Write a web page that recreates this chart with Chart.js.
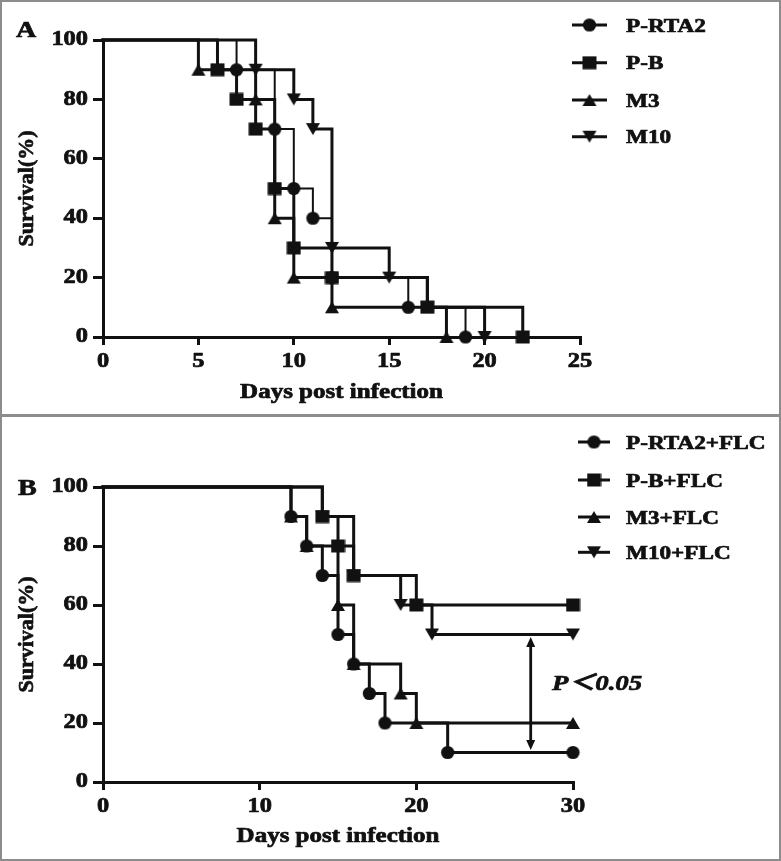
<!DOCTYPE html>
<html>
<head>
<meta charset="utf-8">
<script src="https://cdn.jsdelivr.net/npm/chart.js@4.4.1/dist/chart.umd.min.js"></script>
<style>
html,body{margin:0;padding:0;background:#fff;}
#fig{position:relative;width:781px;height:861px;overflow:hidden;background:#fff;}
.panel{position:absolute;left:0;width:781px;}
.panel canvas{display:block;}
.rule{position:absolute;background:#8c8c8c;}
</style>
</head>
<body>
<div id="fig">
  <div class="panel" style="top:0;height:415px"><canvas id="chartA" width="781" height="415" style="width:781px;height:415px"></canvas></div>
  <div class="panel" style="top:415px;height:446px"><canvas id="chartB" width="781" height="446" style="width:781px;height:446px"></canvas></div>
  <div class="rule" style="left:0;top:0;width:781px;height:2px"></div>
  <div class="rule" style="left:0;top:859px;width:781px;height:2px"></div>
  <div class="rule" style="left:0;top:0;width:2px;height:861px"></div>
  <div class="rule" style="left:779px;top:0;width:2px;height:861px"></div>
  <div class="rule" style="left:0;top:414px;width:781px;height:3px"></div>
</div>
<script>
// ---------------- data ----------------
const labelsA = ['P-RTA2', 'P-B', 'M3', 'M10'];
const daysA_PRTA2 = [0, 7, 9, 10, 11, 12, 16, 19];
const survA_PRTA2 = [100, 90, 70, 50, 40, 20, 10, 0];
const daysA_PB = [0, 6, 7, 8, 9, 10, 12, 17, 22];
const survA_PB = [100, 90, 80, 70, 50, 30, 20, 10, 0];
const daysA_M3 = [0, 5, 8, 9, 10, 12, 18];
const survA_M3 = [100, 90, 80, 40, 20, 10, 0];
const daysA_M10 = [0, 8, 10, 11, 12, 15, 17, 20];
const survA_M10 = [100, 90, 80, 70, 30, 20, 10, 0];

const labelsB = ['P-RTA2+FLC', 'P-B+FLC', 'M3+FLC', 'M10+FLC'];
const daysB_PRTA2 = [0, 12, 13, 14, 15, 16, 17, 18, 22, 30];
const survB_PRTA2 = [100, 90, 80, 70, 50, 40, 30, 20, 10, 10];
const daysB_PB = [0, 14, 15, 16, 20, 30];
const survB_PB = [100, 90, 80, 70, 60, 60];
const daysB_M3 = [0, 12, 13, 15, 16, 19, 20, 30];
const survB_M3 = [100, 90, 80, 60, 40, 30, 20, 20];
const daysB_M10 = [0, 14, 16, 19, 21, 30];
const survB_M10 = [100, 90, 70, 60, 50, 50];

const yTicks = [0, 20, 40, 60, 80, 100];
const xTicksA = [0, 5, 10, 15, 20, 25];
const xTicksB = [0, 10, 20, 30];
const xTitle = 'Days post infection';
const yTitle = 'Survival(%)';
const pValueText = 'P\uFF1C0.05';
const pArrowDay = 27.3;
const pArrowFrom = 50;
const pArrowTo = 10;

// ---------------- style ----------------
const INK = '#111111';
const SERIF = "'Liberation Serif', 'Times New Roman', serif";
const STRETCH = 1.22;
const EMBOLDEN = 0.7;
Chart.defaults.font.family = SERIF;

function patchCtx(ctx) {
  const origFill = ctx.fillText.bind(ctx);
  const origStroke = ctx.strokeText.bind(ctx);
  function draw(t, x, y, mw) {
    ctx.save();
    ctx.strokeStyle = ctx.fillStyle;
    ctx.lineWidth = EMBOLDEN;
    ctx.lineJoin = 'round';
    if (mw === undefined) { origFill(t, x, y); origStroke(t, x, y); }
    else { origFill(t, x, y, mw); origStroke(t, x, y, mw); }
    ctx.restore();
  }
  ctx.fillText = function (t, x, y, mw) {
    const m = ctx.getTransform();
    if (Math.abs(m.b) > 1e-6 || Math.abs(m.c) > 1e-6) {
      return draw(t, x, y, mw);
    }
    ctx.save();
    ctx.translate(x, y);
    ctx.scale(STRETCH, 1);
    draw(t, 0, 0, mw);
    ctx.restore();
  };
}

function makeMarker(kind) {
  const c = document.createElement('canvas');
  let w = 15, h = 15;
  if (kind === 'rect') { w = 15; h = 14; }
  if (kind === 'up' || kind === 'down') { w = 16; h = 14; }
  c.width = w; c.height = h;
  const g = c.getContext('2d');
  g.fillStyle = INK;
  g.beginPath();
  if (kind === 'circle') g.arc(w / 2, h / 2, 6.6, 0, Math.PI * 2);
  else if (kind === 'rect') g.rect(0.5, 0.5, 14, 13);
  else if (kind === 'up') { g.moveTo(w / 2, 1); g.lineTo(w - 1, h - 1); g.lineTo(1, h - 1); g.closePath(); }
  else { g.moveTo(1, 1); g.lineTo(w - 1, 1); g.lineTo(w / 2, h - 1); g.closePath(); }
  g.fill();
  return c;
}
const MK = { circle: makeMarker('circle'), rect: makeMarker('rect'), up: makeMarker('up'), down: makeMarker('down') };

function series(label, days, surv, marker, width) {
  return {
    label: label,
    data: days.map((d, i) => ({ x: d, y: surv[i] })),
    stepped: 'before',
    borderColor: INK,
    borderWidth: width,
    borderJoinStyle: 'miter',
    borderCapStyle: 'square',
    fill: false,
    pointStyle: marker,
    pointRadius: (c) => (c.dataIndex === 0 ? 0 : 6),
    pointHoverRadius: (c) => (c.dataIndex === 0 ? 0 : 6),
    clip: false
  };
}

const tickFont = { family: SERIF, weight: 'bold', size: 20 };

function scalesFor(xTicks, xHeight, titlePadBottom) {
  return {
    x: {
      type: 'linear',
      min: xTicks[0], max: xTicks[xTicks.length - 1],
      afterBuildTicks: (s) => { s.ticks = xTicks.map(v => ({ value: v })); },
      ticks: { color: INK, font: tickFont, padding: 5, maxRotation: 0, autoSkip: false },
      grid: { display: true, drawOnChartArea: false, drawTicks: true, tickLength: 8, tickColor: INK, tickWidth: 3, color: INK, lineWidth: 3 },
      border: { display: true, color: INK, width: 3 },
      title: { display: true, text: xTitle, color: INK, font: { family: SERIF, weight: 'bold', size: 20.5 }, padding: { top: 0, bottom: titlePadBottom } },
      afterFit: (s) => { s.height = xHeight; }
    },
    y: {
      type: 'linear',
      min: yTicks[0], max: yTicks[yTicks.length - 1],
      afterBuildTicks: (s) => { s.ticks = yTicks.map(v => ({ value: v })); },
      ticks: { color: INK, font: tickFont, padding: 5 },
      grid: { display: true, drawOnChartArea: false, drawTicks: true, tickLength: 10, tickColor: INK, tickWidth: 3, color: INK, lineWidth: 3 },
      border: { display: true, color: INK, width: 3 },
      title: { display: true, text: yTitle, color: INK, font: { family: SERIF, weight: 'bold', size: 22 }, padding: { top: 14.5, bottom: 0 } },
      afterFit: (s) => { s.width = 103; }
    }
  };
}

function extrasPlugin(o) {
  return {
    id: 'extras' + o.letter,
    afterDraw(chart) {
      const ctx = chart.ctx;
      ctx.save();
      ctx.fillStyle = INK;
      ctx.textAlign = 'left';
      ctx.textBaseline = 'alphabetic';
      ctx.font = 'bold 23px ' + SERIF;
      ctx.fillText(o.letter, o.letterX, o.letterY);
      ctx.font = 'bold 19px ' + SERIF;
      chart.data.datasets.forEach((ds, i) => {
        const y = o.rows[i];
        ctx.strokeStyle = INK;
        ctx.lineWidth = 3;
        ctx.beginPath();
        ctx.moveTo(o.lx1, y);
        ctx.lineTo(o.lx2, y);
        ctx.stroke();
        const m = ds.pointStyle;
        ctx.drawImage(m, (o.lx1 + o.lx2) / 2 - m.width / 2, y - m.height / 2);
        ctx.fillText(ds.label, o.tx, y + 6.5);
      });
      ctx.restore();
    }
  };
}

const pValuePlugin = {
  id: 'pvalue',
  afterDatasetsDraw(chart) {
    const ctx = chart.ctx;
    const xs = chart.scales.x, ys = chart.scales.y;
    const x = xs.getPixelForValue(pArrowDay);
    const yTop = ys.getPixelForValue(pArrowFrom) + 2.5;
    const yBot = ys.getPixelForValue(pArrowTo) - 2.5;
    const hh = 10, hw = 4.5;
    ctx.save();
    ctx.strokeStyle = INK; ctx.fillStyle = INK; ctx.lineWidth = 2.8;
    ctx.beginPath(); ctx.moveTo(x, yTop + hh - 1); ctx.lineTo(x, yBot - hh + 1); ctx.stroke();
    ctx.beginPath(); ctx.moveTo(x, yTop); ctx.lineTo(x + hw, yTop + hh); ctx.lineTo(x - hw, yTop + hh); ctx.closePath(); ctx.fill();
    ctx.beginPath(); ctx.moveTo(x, yBot); ctx.lineTo(x + hw, yBot - hh); ctx.lineTo(x - hw, yBot - hh); ctx.closePath(); ctx.fill();
    ctx.font = "italic bold 22px 'Liberation Serif', 'Noto Sans CJK SC', serif";
    ctx.textAlign = 'left'; ctx.textBaseline = 'alphabetic';
    ctx.fillText(pValueText, 552, 275);
    ctx.restore();
  }
};

// ---------------- chart A ----------------
const cA = document.getElementById('chartA');
const ctxA = cA.getContext('2d');
patchCtx(ctxA);
new Chart(ctxA, {
  type: 'line',
  data: {
    datasets: [
      series(labelsA[0], daysA_PRTA2, survA_PRTA2, MK.circle, 2),
      series(labelsA[1], daysA_PB, survA_PB, MK.rect, 3),
      series(labelsA[2], daysA_M3, survA_M3, MK.up, 3),
      series(labelsA[3], daysA_M10, survA_M10, MK.down, 3)
    ]
  },
  options: {
    responsive: false,
    animation: false,
    events: [],
    layout: { padding: { left: 0, top: 40, right: 201, bottom: 0 } },
    plugins: { legend: { display: false }, tooltip: { enabled: false } },
    scales: scalesFor(xTicksA, 78, 9.6)
  },
  plugins: [extrasPlugin({ letter: 'A', letterX: 16, letterY: 37, rows: [25, 62.7, 100, 136.7], lx1: 572, lx2: 607, tx: 626 })]
});

// ---------------- chart B ----------------
const cB = document.getElementById('chartB');
const ctxB = cB.getContext('2d');
patchCtx(ctxB);
new Chart(ctxB, {
  type: 'line',
  data: {
    datasets: [
      series(labelsB[0], daysB_PRTA2, survB_PRTA2, MK.circle, 3),
      series(labelsB[1], daysB_PB, survB_PB, MK.rect, 3),
      series(labelsB[2], daysB_M3, survB_M3, MK.up, 3),
      series(labelsB[3], daysB_M10, survB_M10, MK.down, 3)
    ]
  },
  options: {
    responsive: false,
    animation: false,
    events: [],
    layout: { padding: { left: 0, top: 72, right: 208, bottom: 0 } },
    plugins: { legend: { display: false }, tooltip: { enabled: false } },
    scales: scalesFor(xTicksB, 79, 12.3)
  },
  plugins: [pValuePlugin, extrasPlugin({ letter: 'B', letterX: 18, letterY: 80, rows: [27, 65, 102, 137.3], lx1: 578, lx2: 610, tx: 626 })]
});
</script>
</body>
</html>
